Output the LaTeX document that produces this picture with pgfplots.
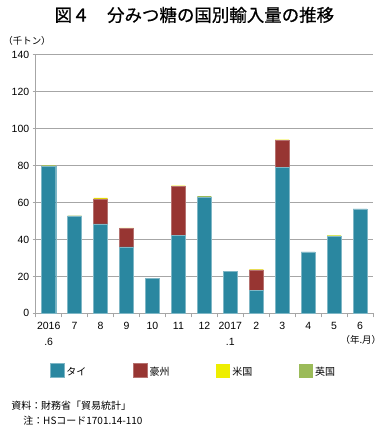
\documentclass[border=0pt]{standalone}
\usepackage{pgfplots}
\pgfplotsset{compat=1.18}
\usepackage{fontspec}
\setmainfont{Liberation Sans}
\newfontfamily\cjk{Noto Sans CJK JP}
\newfontfamily\cjkt[FakeBold=0.6]{Noto Sans CJK JP}
\definecolor{cThai}{HTML}{2A87A0}
\definecolor{cAus}{HTML}{973532}
\definecolor{cUS}{HTML}{EEEE00}
\definecolor{cUK}{HTML}{9BBB59}
\definecolor{gridc}{HTML}{A6A6A6}
\begin{document}
\begin{tikzpicture}
\path (0pt,0pt) rectangle (387pt,428pt);
\node[font=\cjkt\fontsize{17.5}{17.5}\selectfont] at (193pt,413pt) {図４　分みつ糖の国別輸入量の推移};
\node[font=\cjk\fontsize{9.5}{10}\selectfont, anchor=west] at (-2pt,387pt) {（千トン）};
\begin{axis}[
  at={(34pt,114pt)}, anchor=south west,
  scale only axis, width=338pt, height=259pt,
  clip=false,
  /pgf/number format/assume math mode=true,
  ybar stacked, bar width=0.54,
  xmin=-0.5, xmax=12.5, ymin=0, ymax=140,
  ytick={0,20,...,140},
  xtick={0,...,12},
  xticklabels={2016\\.6,7,8,9,10,11,12,2017\\.1,2,3,4,5,6},
  xticklabel style={align=center, font=\fontsize{10.5}{16}\selectfont, yshift=-2pt},
  yticklabel style={font=\fontsize{10.5}{12}\selectfont},
  major x tick style={draw=none},
  minor xtick={-0.5,0.5,...,12.5},
  minor x tick style={gridc, line width=1pt},
  minor tick length=4pt,
  major tick length=3pt,
  tick align=outside,
  ymajorgrids, grid style={gridc, line width=0.9pt},
  axis x line*=bottom, axis y line*=left,
  axis line style={gridc, line width=1pt},
  y tick style={gridc, line width=0.8pt},
  xtick pos=bottom, ytick pos=left,
  legend columns=4,
  legend style={at={(0.468,-0.185)}, anchor=north, draw=none, font=\cjk\fontsize{10}{10}\selectfont,
    /tikz/every even column/.append style={column sep=45pt}},
  legend image code/.code={\fill[#1] (0pt,-5pt) rectangle (14pt,9pt);},
]
\addplot[fill=cThai, draw=cThai!60!white, line width=0.4pt] coordinates {(0,79.5)(1,52.5)(2,48.5)(3,36)(4,19)(5,42.3)(6,63)(7,22.7)(8,12.4)(9,79.1)(10,33.3)(11,42)(12,56.6)};
\addplot[fill=cAus, draw=cAus!70!white, line width=0.4pt] coordinates {(0,0)(1,0)(2,13.5)(3,10)(4,0)(5,26.4)(6,0)(7,0)(8,11.1)(9,14.5)(10,0)(11,0)(12,0)};
\addplot[fill=cUS, draw=none] coordinates {(0,0.4)(1,0)(2,0.5)(3,0.3)(4,0)(5,0.5)(6,0)(7,0)(8,0.3)(9,0.5)(10,0)(11,0.3)(12,0)};
\addplot[fill=cUK, draw=none] coordinates {(0,0.2)(1,0.5)(2,0)(3,0)(4,0)(5,0)(6,0.5)(7,0)(8,0)(9,0)(10,0)(11,0)(12,0)};
\legend{タイ,豪州,米国,英国}
\node[font=\cjk\fontsize{9.5}{10}\selectfont, anchor=east] at (axis cs:12.95,-14.5) {（年.月）};
\end{axis}
\node[font=\cjk\fontsize{10}{11}\selectfont, anchor=west] at (6pt,21pt) {資料：財務省「貿易統計」};
\node[font=\cjk\fontsize{10}{11}\selectfont, anchor=west] at (18pt,7pt) {注：HSコード1701.14-110};
\end{tikzpicture}
\end{document}
